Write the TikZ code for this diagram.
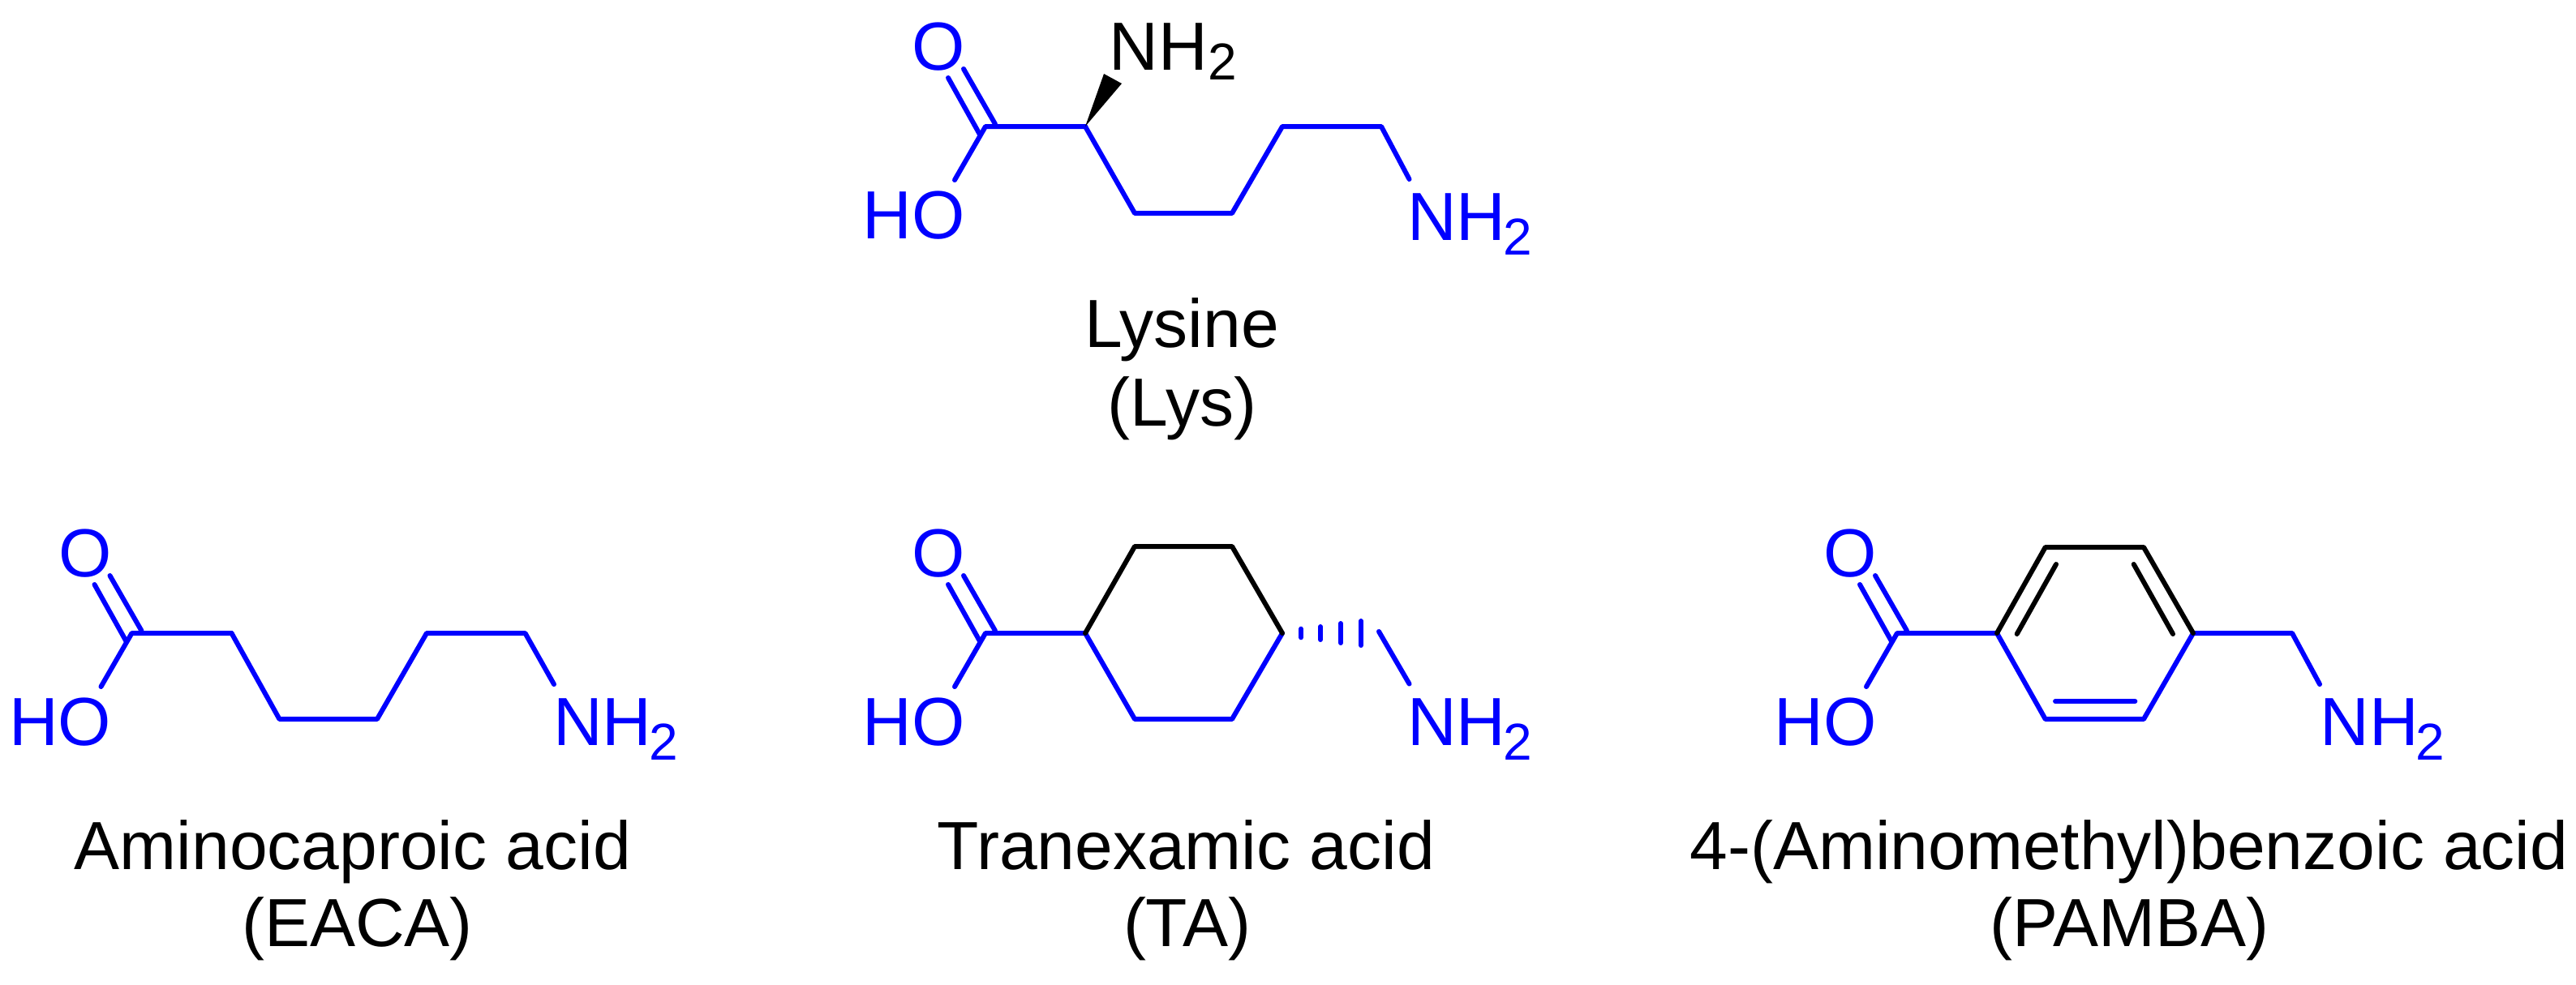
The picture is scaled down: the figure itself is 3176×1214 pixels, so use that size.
\documentclass[tikz,border=0pt]{standalone}
\usepackage{fontspec}
\setmainfont{Liberation Sans}
\newcommand{\subtwo}{\kern-0.8pt\raisebox{-4.6pt}{\fontsize{16}{16}\selectfont 2}}
\newcommand{\subtop}{\raisebox{-3pt}{\fontsize{16}{16}\selectfont 2}}
\tikzset{x=0.25pt,y=-0.25pt,
	bond/.style={line width=1.5pt,line join=round,line cap=round},
	atom/.style={font=\fontsize{21}{21}\selectfont,inner sep=0pt,anchor=base west},
	title/.style={font=\fontsize{21}{21}\selectfont,inner sep=0pt,anchor=base}}
\colorlet{molblue}{blue}
\newcommand{\carboxyl}{%
	\coordinate (c1) at (0,0);
	\coordinate (oh) at (-38,66);
	\coordinate (oa1) at (-46,-60);
	\coordinate (oa2) at (-7.5,9);
	\coordinate (ob1) at (-27,-71);
	\coordinate (ob2) at (12,-3);
	\coordinate (c2) at (123,0);
	\node[atom,molblue] (o) at (-91,-70) {O};
	\node[atom,molblue] (ho) at (-152,138) {HO};
	\draw[bond,molblue] (oa1) -- (oa2);
	\draw[bond,molblue] (ob1) -- (ob2);
	\draw[bond,molblue] (oh) -- (c1) -- (c2);
}
\begin{document}
\begin{tikzpicture}
	\useasboundingbox (0,0) rectangle (3176,1214);
	\begin{scope}[shift={(1215,156)},name prefix=lys-]
		\carboxyl
		\coordinate (c3) at (184,107);
		\coordinate (c4) at (304,107);
		\coordinate (c5) at (366,0);
		\coordinate (c6) at (488,0);
		\coordinate (nend) at (522.5,65);
		\coordinate (wa) at (146,-65);
		\coordinate (wb) at (168,-53);
		\draw[bond,molblue] (c2) -- (c3) -- (c4) -- (c5) -- (c6) -- (nend);
		\fill[black] (c2) -- (wa) -- (wb) -- cycle;
		\node[atom] (nha) at (152,-70) {NH\subtop};
		\node[atom,molblue] (nhb) at (519.5,140) {NH\subtwo};
		\node[title] (name) at (242,272.5) {Lysine};
		\node[title] (abbr) at (242.5,369) {(Lys)};
	\end{scope}
	\begin{scope}[shift={(162.5,781)},name prefix=eaca-]
		\carboxyl
		\coordinate (c3) at (182,106);
		\coordinate (c4) at (302.5,106);
		\coordinate (c5) at (363.5,0);
		\coordinate (c6) at (485,0);
		\coordinate (nend) at (520.5,63);
		\draw[bond,molblue] (c2) -- (c3) -- (c4) -- (c5) -- (c6) -- (nend);
		\node[atom,molblue] (nh) at (519,138) {NH\subtwo};
		\node[title] (name) at (272.5,291.5) {Aminocaproic acid};
		\node[title] (abbr) at (278,386) {(EACA)};
	\end{scope}
	\begin{scope}[shift={(1215,781)},name prefix=ta-]
		\carboxyl
		\coordinate (r2) at (184,-107);
		\coordinate (r3) at (304,-107);
		\coordinate (r4) at (366,0);
		\coordinate (r5) at (304,106);
		\coordinate (r6) at (184,106);
		\coordinate (ch) at (485,-2);
		\coordinate (nend) at (522.5,62.5);
		\coordinate (ha1) at (389,-5.3);
		\coordinate (ha2) at (389,5.3);
		\coordinate (hb1) at (413,-8);
		\coordinate (hb2) at (413,8);
		\coordinate (hc1) at (438,-12);
		\coordinate (hc2) at (438,12);
		\coordinate (hd1) at (463,-15);
		\coordinate (hd2) at (463,15);
		\draw[bond,molblue] (c2) -- (r6) -- (r5) -- (r4);
		\draw[bond,black] (c2) -- (r2) -- (r3) -- (r4);
		\draw[bond,molblue] (ha1) -- (ha2);
		\draw[bond,molblue] (hb1) -- (hb2);
		\draw[bond,molblue] (hc1) -- (hc2);
		\draw[bond,molblue] (hd1) -- (hd2);
		\draw[bond,molblue] (ch) -- (nend);
		\node[atom,molblue] (nh) at (519.5,138) {NH\subtwo};
		\node[title] (name) at (247.5,291.5) {Tranexamic acid};
		\node[title] (abbr) at (248.5,386) {(TA)};
	\end{scope}
	\begin{scope}[shift={(2339,781)},name prefix=pamba-]
		\carboxyl
		\coordinate (r2) at (182.7,-106);
		\coordinate (r3) at (304,-106);
		\coordinate (r4) at (365,0);
		\coordinate (r5) at (304,106);
		\coordinate (r6) at (182.7,106);
		\coordinate (ch) at (487,0);
		\coordinate (nend) at (521,63);
		\coordinate (ia1) at (196,-85);
		\coordinate (ia2) at (147.7,1);
		\coordinate (ib1) at (291.7,-85);
		\coordinate (ib2) at (340,1);
		\coordinate (ic1) at (195,84);
		\coordinate (ic2) at (293.3,84);
		\draw[bond,molblue] (c2) -- (r6) -- (r5) -- (r4) -- (ch) -- (nend);
		\draw[bond,black] (c2) -- (r2) -- (r3) -- (r4);
		\draw[bond,black] (ia1) -- (ia2);
		\draw[bond,black] (ib1) -- (ib2);
		\draw[bond,molblue] (ic1) -- (ic2);
		\node[atom,molblue] (nh) at (521,138) {NH\subtwo};
		\node[title] (name) at (286,291.5) {4-(Aminomethyl)benzoic acid};
		\node[title] (abbr) at (286.5,386) {(PAMBA)};
	\end{scope}
\end{tikzpicture}
\end{document}
